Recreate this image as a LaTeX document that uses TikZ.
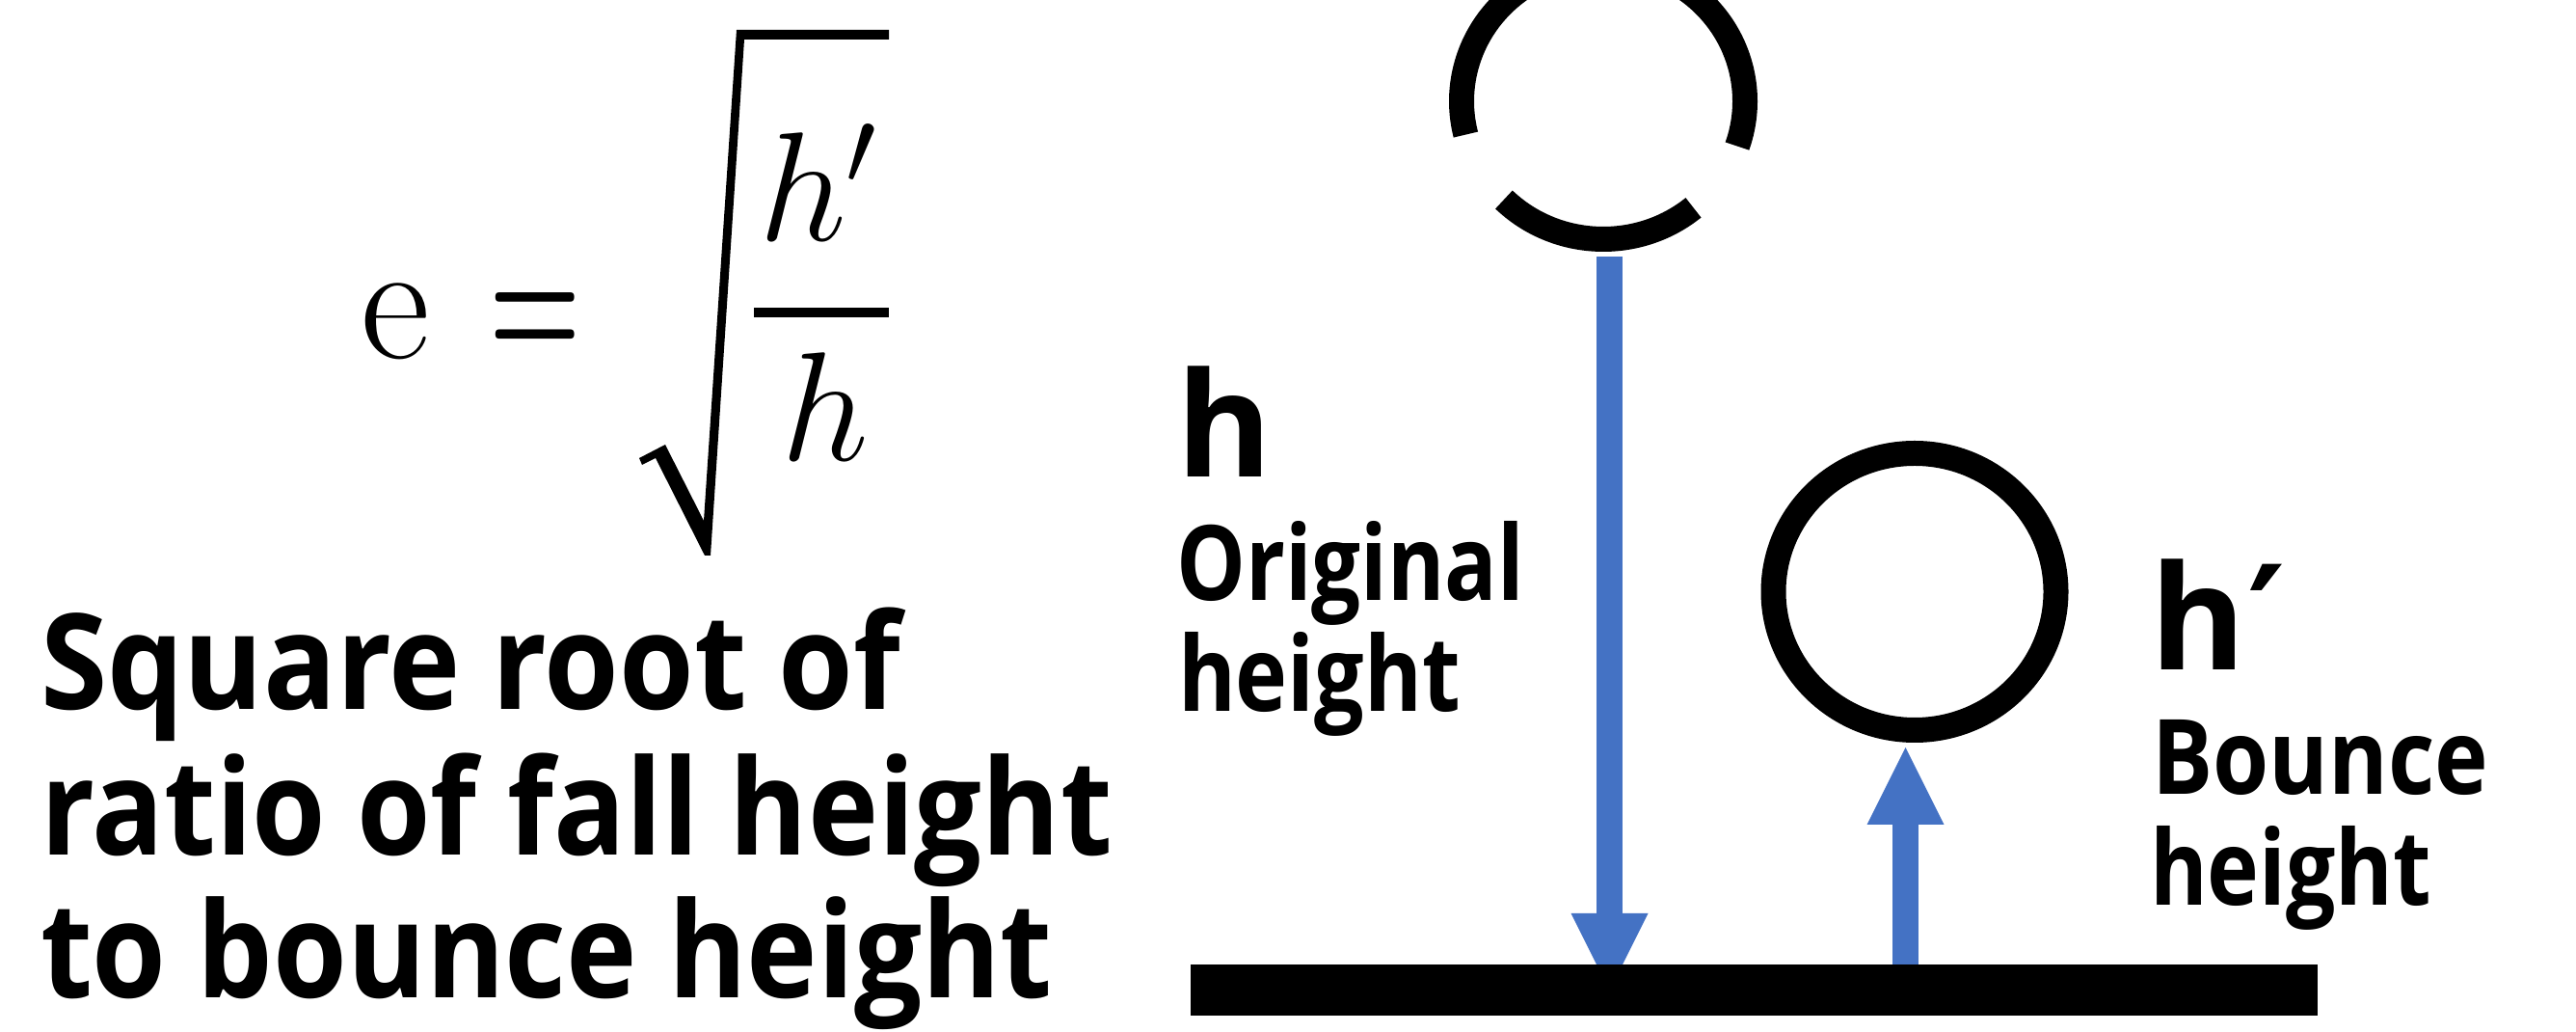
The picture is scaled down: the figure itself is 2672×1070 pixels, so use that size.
\documentclass[tikz,border=0pt]{standalone}
\usepackage{fix-cm}
\usepackage{fontspec}
\usepackage{graphicx}
\newfontfamily\labfont{Open Sans}
\newfontfamily\primefont{DejaVu Sans}
\usetikzlibrary{arrows.meta,shapes.geometric}
\definecolor{arrowblue}{HTML}{4472C4}
\newcommand{\fitto}[2]{\resizebox{#1}{\height}{#2}}
\begin{document}
\begin{tikzpicture}[x=1pt,y=1pt,
  ball/.style={line width=26pt, draw=black},
  txt/.style={inner sep=0pt, outer sep=0pt, anchor=base west},
  bigtxt/.style={txt, font=\labfont\bfseries\fontsize{138}{138}\selectfont},
  labtxt/.style={txt, font=\labfont\bfseries\fontsize{108}{108}\selectfont},
  hlab/.style={txt, font=\labfont\bfseries\fontsize{151}{151}\selectfont},
  mathtxt/.style={txt, font=\fontsize{161}{161}\selectfont},
  bluearrow/.style={draw=arrowblue, line width=27pt,
    -{Triangle[width=80pt,length=80pt,line width=0pt,fill=arrowblue]}},
]
\clip (0,0) rectangle (2672,1070);
% formula
\node[txt, font=\fontsize{176}{176}\selectfont] (e) at (374,698) {e};
\node[inner sep=0pt, anchor=base, font=\fontsize{176}{176}\selectfont\bfseries] (eq) at (555.5,698) {\scalebox{0.62}[1]{=}};
\node[mathtxt] (num) at (787,820) {$h'$};
\node[mathtxt] (den) at (810,592) {$h$};
\fill (782,741) rectangle (922,751);
\fill (663,595) -- (690,609) -- (730,530) -- (764,1039) -- (922,1039) -- (922,1029)
  -- (772,1029) -- (737,494) -- (731,494) -- (680,595) -- (666,588) -- cycle;
% left text
\node[bigtxt] (l1) at (42,334) {\fitto{892pt}{Square root of}};
\node[bigtxt] (l2) at (42,183) {\fitto{1112pt}{ratio of fall height}};
\node[bigtxt] (l3) at (42,35) {\fitto{1050pt}{to bounce height}};
% labels
\node[hlab] (hl) at (1220,575) {h};
\node[labtxt] (orig) at (1220,447) {\fitto{361pt}{Original}};
\node[labtxt] (hgt1) at (1222,332) {\fitto{293pt}{height}};
\node[hlab] (hp) at (2230,375) {h\kern2pt{\primefont\bfseries\fontsize{150}{150}\selectfont ′}};
\node[labtxt] (bounce) at (2232,246) {\fitto{349pt}{Bounce}};
\node[labtxt] (hgt2) at (2230,131) {\fitto{292pt}{height}};
% top ball (dashed)
\coordinate (topc) at (1663,965);
\draw[ball] ([shift={(100:147 and 143)}]topc) arc[start angle=100, end angle=194, x radius=147, y radius=143];
\draw[ball] ([shift={(225.5:147 and 143)}]topc) arc[start angle=225.5, end angle=309.5, x radius=147, y radius=143];
\draw[ball] ([shift={(-19:147 and 143)}]topc) arc[start angle=-19, end angle=80, x radius=147, y radius=143];
% bounce ball
\node[ball, ellipse, minimum width=293pt, minimum height=287pt, inner sep=0pt] (ball2) at (1986,456.5) {};
% arrows and ground
\coordinate (dstart) at (1669.5,804);
\coordinate (dend) at (1669.5,43);
\draw[bluearrow] (dstart) -- (dend);
\node[fill=black, minimum width=1169pt, minimum height=53pt, inner sep=0pt, anchor=south west] (ground) at (1235,17) {};
\coordinate (ustart) at (1976.5,70);
\coordinate (uend) at (1976.5,295);
\draw[bluearrow] (ustart) -- (uend);
\end{tikzpicture}
\end{document}
